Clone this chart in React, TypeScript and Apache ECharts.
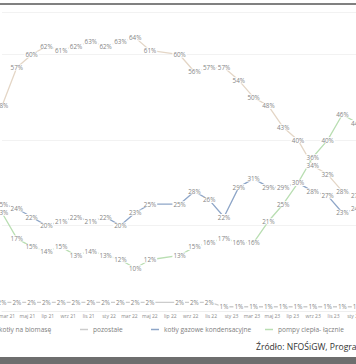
import React, { useEffect, useRef } from "react";
import * as echarts from "echarts";

const categories = [
  "p01","p02","p03","p04","p05","p06","p07","p08","p09","p10","p11","p12","p13",
  "p14","p15","p16","p17","p18","p19","p20","p21","p22","p23","p24","p25","p26",
];
const tickLabels = [
  "mar 21","maj 21","lip 21","wrz 21","lis 21","sty 22","mar 22","maj 22","lip 22",
  "wrz 22","lis 22","sty 23","mar 23","maj 23","lip 23","wrz 23","lis 23","sty 24",
];
const biomasa = [48,57,60,62,61,62,63,62,63,64,61,null,60,56,57,57,54,50,48,43,40,34,32,28,27,26];
const pozostale = [2,2,2,2,2,2,2,2,2,2,2,null,2,2,2,1,1,1,1,1,1,1,1,1,1,1];
const gazowe = [25,24,22,20,21,22,21,22,20,23,25,null,25,28,26,22,29,31,29,29,30,28,27,23,24,24];
const pompy = [23,17,15,14,15,13,14,13,12,10,12,null,13,15,16,17,16,16,21,25,30,36,40,46,44,45];

const seriesNames = ["kotły na biomasę", "pozostałe", "kotły gazowe kondensacyjne", "pompy ciepła- łącznie"];
const seriesColors = ["#e4d6c6", "#cccccc", "#8ea6c8", "#b9deb2"];
const seriesData = [biomasa, pozostale, gazowe, pompy];

const SHIFT = 40;

export default function App() {
  const ref = useRef<HTMLDivElement>(null);
  useEffect(() => {
    if (!ref.current) return;
    const chart = echarts.init(ref.current, null, { renderer: "svg" });
    const font = "'Open Sans', 'DejaVu Sans', sans-serif";
    const legendLefts = [-14, 80, 151, 265];
    chart.setOption({
      animation: false,
      backgroundColor: "#ffffff",
      textStyle: { fontFamily: font },
      grid: [
        { left: 2 + SHIFT, right: 48, top: 12, bottom: 53 },
        { left: 7 + SHIFT, width: 347, top: 12, bottom: 53 },
      ],
      xAxis: [
        {
          type: "category",
          data: categories,
          gridIndex: 0,
          boundaryGap: false,
          axisLine: { show: true, lineStyle: { color: "#eeeeee" } },
          axisTick: { show: false },
          axisLabel: { show: false },
        },
        {
          type: "category",
          data: tickLabels,
          gridIndex: 1,
          boundaryGap: false,
          axisLine: { show: false },
          axisTick: { show: false },
          axisLabel: { show: true, fontSize: 5, color: "#8a8a8a", margin: 2, interval: 0 },
        },
      ],
      yAxis: [
        {
          type: "value",
          gridIndex: 0,
          min: 0,
          max: 70,
          interval: 20,
          axisLabel: { show: false },
          axisLine: { show: false },
          axisTick: { show: false },
          splitLine: { show: true, lineStyle: { color: "#f2f2f2", width: 1 } },
        },
        {
          type: "value",
          gridIndex: 1,
          show: false,
          min: 0,
          max: 70,
          splitLine: { show: false },
        },
      ],
      legend: seriesNames.map((name, i) => ({
        data: [name],
        left: legendLefts[i] + SHIFT,
        top: 326,
        padding: 0,
        icon: "rect",
        itemWidth: 8,
        itemHeight: 1.5,
        itemGap: 2,
        textStyle: { fontSize: 6.6, color: "#808080", fontFamily: font },
      })),
      graphic: [
        { type: "rect", shape: { x: 0, y: 3, width: 520, height: 2 }, style: { fill: "#808080" } },
        { type: "rect", shape: { x: 0, y: 357, width: 520, height: 8 }, style: { fill: "#6e6e6e" } },
        {
          type: "text",
          left: 256 + SHIFT,
          top: 342,
          style: { text: "Źródło: NFOŚiGW, Program Czyste Powietrze", fontSize: 8.6, fill: "#333333", fontFamily: font },
        },
      ],
      series: seriesData.map((d, i) => ({
        name: seriesNames[i],
        type: "line",
        xAxisIndex: 0,
        yAxisIndex: 0,
        data: d,
        connectNulls: true,
        symbol: "circle",
        symbolSize: 0.5,
        showSymbol: true,
        lineStyle: { color: seriesColors[i], width: 1.3 },
        itemStyle: { color: seriesColors[i] },
        label: {
          show: true,
          position: "inside",
          formatter: "{c}%",
          fontSize: 6.3,
          color: "#858585",
          backgroundColor: "#ffffff",
          padding: [0, 1],
        },
      })),
    });
    return () => chart.dispose();
  }, []);
  return (
    <div style={{ position: "absolute", left: 0, top: 0, width: 356, height: 364, overflow: "hidden", background: "#fff" }}>
      <div ref={ref} style={{ position: "absolute", left: -SHIFT, top: 0, width: 460, height: 364 }} />
    </div>
  );
}
